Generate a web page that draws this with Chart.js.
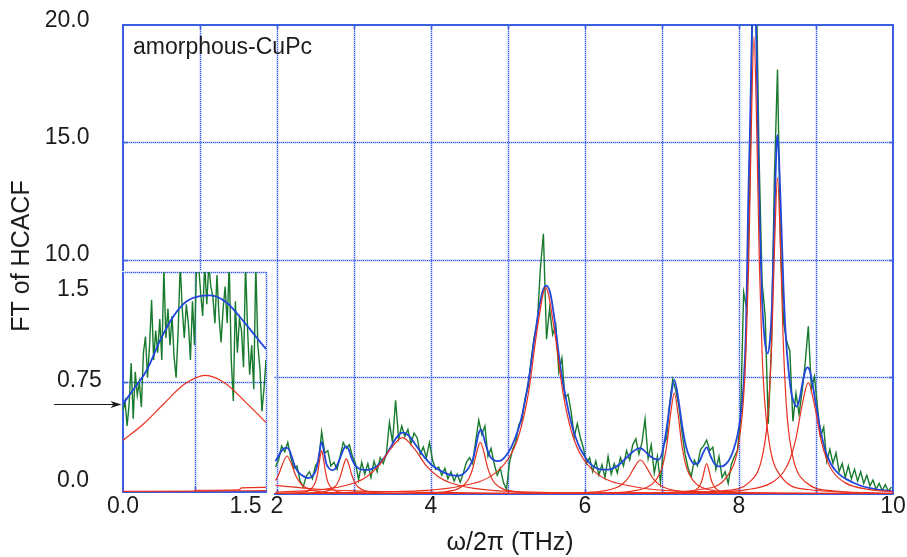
<!DOCTYPE html>
<html>
<head>
<meta charset="utf-8">
<script src="https://cdn.jsdelivr.net/npm/chart.js@4.4.1/dist/chart.umd.min.js"></script>
<style>
  html, body { margin: 0; padding: 0; background: #fff; }
  #wrap { position: relative; width: 907px; height: 557px; }
  #wrap canvas { position: absolute; left: 0; top: 0; }
</style>
</head>
<body>
<div id="wrap">
  <canvas id="main" width="907" height="557" style="width:907px;height:557px"></canvas>
  <canvas id="inset" width="907" height="557" style="width:907px;height:557px"></canvas>
</div>
<script>
// ---------- spectrum data (frequency in THz, FT of HCACF) ----------

// raw spectrum, 2–10 THz
const greenFreq = [
  1.98,2.02,2.06,2.10,2.14,2.18,2.22,2.26,2.30,2.34,
  2.38,2.42,2.46,2.50,2.54,2.58,2.62,2.66,2.70,2.74,
  2.78,2.82,2.86,2.90,2.94,2.98,3.02,3.06,3.10,3.14,
  3.18,3.22,3.26,3.30,3.34,3.38,3.42,3.46,3.50,3.54,
  3.58,3.62,3.66,3.70,3.74,3.78,3.82,3.86,3.90,3.94,
  3.98,4.02,4.06,4.10,4.14,4.18,4.22,4.26,4.30,4.34,
  4.38,4.42,4.46,4.50,4.54,4.58,4.62,4.66,4.70,4.74,
  4.78,4.82,4.86,4.90,4.94,4.98,5.02,5.06,5.10,5.14,
  5.18,5.22,5.26,5.30,5.34,5.38,5.42,5.46,5.50,5.54,
  5.58,5.62,5.66,5.70,5.74,5.78,5.82,5.86,5.90,5.94,
  5.98,6.02,6.06,6.10,6.14,6.18,6.22,6.26,6.30,6.34,
  6.38,6.42,6.46,6.50,6.54,6.58,6.62,6.66,6.70,6.74,
  6.78,6.82,6.86,6.90,6.94,6.98,7.02,7.06,7.10,7.14,
  7.18,7.22,7.26,7.30,7.34,7.38,7.42,7.46,7.50,7.54,
  7.58,7.62,7.66,7.70,7.74,7.78,7.82,7.86,7.90,7.94,
  7.98,8.02,8.06,8.10,8.14,8.18,8.22,8.26,8.30,8.34,
  8.38,8.42,8.46,8.50,8.54,8.58,8.62,8.66,8.70,8.74,
  8.78,8.82,8.86,8.90,8.94,8.98,9.02,9.06,9.10,9.14,
  9.18,9.22,9.26,9.30,9.34,9.38,9.42,9.46,9.50,9.54,
  9.58,9.62,9.66,9.70,9.74,9.78,9.82,9.86,9.90,9.94,
  9.98
];
const greenAmp = [
  1.15,1.45,2.05,1.80,2.20,1.55,1.10,1.20,0.55,0.30,
  0.75,0.95,0.65,1.20,1.40,2.65,1.75,1.85,1.20,1.35,
  1.05,1.60,2.20,1.95,2.10,1.60,1.30,0.60,1.35,0.85,
  1.30,0.70,1.40,0.95,1.55,1.30,1.70,3.05,2.20,4.00,
  2.35,2.90,2.45,2.75,2.15,2.60,2.40,1.70,2.00,1.55,
  2.20,1.45,1.05,1.15,0.80,1.10,0.65,0.95,0.55,0.85,
  0.50,0.90,1.35,1.55,1.30,2.25,3.15,2.55,2.90,1.60,
  1.95,1.30,0.80,1.10,0.50,0.20,1.35,1.90,2.20,2.95,
  3.15,4.05,4.55,5.70,6.70,7.25,9.60,11.10,6.60,7.90,
  6.80,7.20,5.20,5.80,4.10,4.25,3.50,2.45,3.00,2.40,
  1.95,1.30,1.55,0.95,1.40,0.80,1.25,0.70,1.60,0.85,
  1.30,0.90,1.55,1.20,1.85,1.45,2.10,2.35,1.70,2.20,
  3.20,1.50,2.10,0.90,1.60,0.50,2.05,2.40,3.90,4.90,
  4.40,3.75,2.60,1.70,1.10,0.75,1.45,1.20,1.90,2.05,
  2.30,1.85,2.00,1.05,1.60,0.70,0.95,0.45,1.25,1.60,
  1.85,3.20,8.60,7.90,13.0,22.0,23.0,14.5,9.00,7.60,
  3.00,6.20,13.5,18.1,10.5,7.30,6.50,6.10,3.10,4.30,
  3.40,4.40,5.60,7.15,4.45,5.00,3.70,2.45,2.85,1.40,
  1.90,1.30,1.75,0.95,1.30,0.70,1.20,0.65,1.05,0.55,
  0.95,0.45,0.80,0.35,0.60,0.20,0.45,0.15,0.40,0.12,
  0.30
];

// total Lorentzian fit, 2–10 THz
const fitTotal = [
  [1.98,1.40],[2.02,1.62],[2.06,1.85],[2.10,1.96],[2.13,1.97],[2.16,1.88],[2.20,1.50],[2.24,1.12],
  [2.28,0.92],[2.32,0.81],[2.36,0.73],[2.41,0.68],[2.45,0.74],[2.49,0.90],[2.52,1.18],[2.55,1.75],
  [2.58,2.22],[2.61,1.80],[2.64,1.30],[2.67,1.12],[2.71,1.02],[2.75,1.05],[2.79,1.30],[2.83,1.62],
  [2.87,1.95],[2.90,2.03],[2.93,1.90],[2.97,1.52],[3.01,1.25],[3.06,1.10],[3.12,1.03],[3.18,1.03],
  [3.24,1.08],[3.30,1.20],[3.36,1.40],[3.42,1.68],[3.48,2.02],[3.54,2.35],[3.60,2.58],[3.64,2.62],
  [3.68,2.57],[3.74,2.38],[3.80,2.10],[3.86,1.82],[3.92,1.55],[3.98,1.33],[4.04,1.16],[4.10,1.03],
  [4.16,0.93],[4.22,0.85],[4.28,0.79],[4.34,0.77],[4.40,0.82],[4.45,0.95],[4.50,1.18],[4.55,1.55],
  [4.59,2.15],[4.62,2.60],[4.65,2.74],[4.68,2.48],[4.72,2.00],[4.76,1.65],[4.80,1.48],[4.86,1.40],
  [4.92,1.45],[4.98,1.66],[5.04,1.98],[5.10,2.45],[5.16,3.05],[5.22,3.95],[5.28,5.10],[5.34,6.55],
  [5.40,7.85],[5.45,8.65],[5.50,8.89],[5.55,8.55],[5.60,7.55],[5.65,6.20],[5.70,5.00],[5.76,3.95],
  [5.82,3.05],[5.88,2.40],[5.94,1.92],[6.00,1.58],[6.07,1.28],[6.14,1.12],[6.22,1.04],[6.30,1.04],
  [6.38,1.12],[6.46,1.30],[6.54,1.55],[6.62,1.80],[6.68,1.93],[6.72,1.95],[6.77,1.85],[6.83,1.65],
  [6.90,1.50],[6.96,1.47],[7.01,1.85],[7.06,2.80],[7.11,4.00],[7.16,4.87],[7.21,4.10],[7.26,2.95],
  [7.31,2.05],[7.36,1.55],[7.42,1.28],[7.48,1.35],[7.53,1.72],[7.58,1.99],[7.63,1.62],[7.68,1.30],
  [7.73,1.18],[7.78,1.18],[7.83,1.28],[7.88,1.50],[7.93,1.90],[7.98,2.50],[8.02,3.30],[8.06,4.70],
  [8.09,7.00],[8.105,9.50],[8.12,12.5],[8.14,15.2],[8.16,18.5],[8.18,21.5],[8.195,22.5],[8.21,21.5],
  [8.23,18.5],[8.25,14.5],[8.27,11.5],[8.29,9.2],[8.31,7.6],[8.34,6.4],[8.37,6.0],[8.40,6.5],
  [8.43,8.2],[8.46,11.8],[8.49,15.0],[8.50,15.3],[8.52,14.3],[8.55,11.5],[8.58,8.6],[8.61,6.6],
  [8.64,5.4],[8.68,4.3],[8.72,3.85],[8.75,3.73],[8.78,3.95],[8.82,4.65],[8.86,5.25],[8.89,5.40],
  [8.92,5.25],[8.96,4.60],[9.01,3.60],[9.06,2.70],[9.12,1.85],[9.19,1.30],[9.26,0.98],[9.34,0.74],
  [9.42,0.59],[9.50,0.46],[9.60,0.33],[9.70,0.25],[9.80,0.19],[9.90,0.15],[10.00,0.11]
];

// individual Lorentzian components
const peakBroad = [[1.98,0.37],[2.5,0.214],[3,0.136],[4,0.066],[5,0.039],[6,0.025],[8,0.013],[10,0.008]];
const peak213 = [[1.98,0.57],[2.02,0.81],[2.075,1.30],[2.13,1.62],[2.185,1.30],[2.24,0.81],[2.295,0.50],
  [2.35,0.32],[2.46,0.16],[2.68,0.062],[3.23,0.016],[4.33,0.004],[10,0]];
const peak258 = [[1.98,0.013],[2.33,0.071],[2.43,0.185],[2.48,0.37],[2.505,0.57],[2.53,0.925],[2.555,1.48],
  [2.58,1.85],[2.605,1.48],[2.63,0.925],[2.655,0.57],[2.68,0.37],[2.73,0.185],[2.83,0.071],[3.08,0.018],
  [4.0,0.0023],[10,0]];
const peak290 = [[1.98,0.010],[2.515,0.058],[2.669,0.15],[2.746,0.30],[2.785,0.46],[2.823,0.75],[2.862,1.20],
  [2.90,1.50],[2.938,1.20],[2.977,0.75],[3.015,0.46],[3.054,0.30],[3.131,0.15],[3.285,0.058],[3.67,0.015],
  [5.0,0.002],[10,0]];
const peak363 = [[1.98,0.082],[2.08,0.092],[2.70,0.24],[3.01,0.48],[3.165,0.74],[3.32,1.20],[3.475,1.92],
  [3.63,2.40],[3.785,1.92],[3.94,1.20],[4.095,0.74],[4.25,0.48],[4.56,0.24],[5.18,0.092],[6.73,0.024],[10,0.006]];
const peak464 = [[1.98,0.003],[3.67,0.022],[4.155,0.085],[4.349,0.22],[4.446,0.44],[4.495,0.68],[4.543,1.10],
  [4.592,1.76],[4.64,2.20],[4.689,1.76],[4.737,1.10],[4.786,0.68],[4.834,0.44],[4.931,0.22],[5.125,0.085],
  [5.61,0.022],[10,0.0007]];
const peak549 = [[1.98,0.034],[3.29,0.087],[4.39,0.34],[4.83,0.88],[5.05,1.76],[5.16,2.71],[5.27,4.40],
  [5.38,7.04],[5.49,8.80],[5.60,7.04],[5.71,4.40],[5.82,2.71],[5.93,1.76],[6.15,0.88],[6.59,0.34],
  [7.69,0.087],[10,0.021]];
const peak672 = [[1.98,0.0015],[5.22,0.014],[5.97,0.056],[6.27,0.145],[6.42,0.29],[6.495,0.45],[6.57,0.725],
  [6.645,1.16],[6.72,1.45],[6.795,1.16],[6.87,0.725],[6.945,0.45],[7.02,0.29],[7.17,0.145],[7.47,0.056],
  [8.22,0.014],[10,0.003]];
const peak716 = [[1.98,0.0014],[5.0,0.0083],[6.21,0.043],[6.685,0.165],[6.875,0.43],[6.97,0.86],[7.0175,1.32],
  [7.065,2.15],[7.1125,3.44],[7.16,4.30],[7.2075,3.44],[7.255,2.15],[7.3025,1.32],[7.35,0.86],[7.445,0.43],
  [7.635,0.165],[8.11,0.043],[10,0.0048]];
const peak758 = [[1.98,0.0001],[7.03,0.013],[7.305,0.05],[7.415,0.13],[7.47,0.26],[7.4975,0.40],[7.525,0.65],
  [7.5525,1.04],[7.58,1.30],[7.6075,1.04],[7.635,0.65],[7.6625,0.40],[7.69,0.26],[7.745,0.13],[7.855,0.05],
  [8.13,0.013],[10,0.0007]];
const peak820 = [[1.98,0.0025],[5.0,0.009],[6.8,0.049],[7.495,0.193],[7.845,0.75],[7.985,1.95],[8.055,3.90],
  [8.09,6.00],[8.125,9.75],[8.16,15.6],[8.195,19.5],[8.23,15.6],[8.265,9.75],[8.30,6.00],[8.335,3.90],
  [8.405,1.95],[8.545,0.75],[8.895,0.193],[10,0.029]];
const peak850 = [[1.98,0.0016],[5.0,0.0057],[7.1,0.036],[7.78,0.134],[8.14,0.52],[8.284,1.35],[8.356,2.70],
  [8.392,4.15],[8.428,6.75],[8.464,10.8],[8.50,13.5],[8.536,10.8],[8.572,6.75],[8.608,4.15],[8.644,2.70],
  [8.716,1.35],[8.86,0.52],[9.22,0.134],[10,0.031]];
const peak890 = [[1.98,0.0025],[5.0,0.008],[7.30,0.047],[8.10,0.183],[8.42,0.475],[8.58,0.95],[8.66,1.46],
  [8.74,2.375],[8.82,3.80],[8.90,4.75],[8.98,3.80],[9.06,2.375],[9.14,1.46],[9.22,0.95],[9.38,0.475],
  [9.70,0.183],[10,0.098]];
const componentPeaks = [peakBroad, peak213, peak258, peak290, peak363, peak464, peak549,
  peak672, peak716, peak758, peak820, peak850, peak890];

// low-frequency part, 0–1.75 THz
const insetFreq = [
  0.000,0.025,0.050,0.075,0.100,0.125,0.150,0.175,0.200,0.225,
  0.250,0.275,0.300,0.325,0.350,0.375,0.400,0.425,0.450,0.475,
  0.500,0.525,0.550,0.575,0.600,0.625,0.650,0.675,0.700,0.725,
  0.750,0.775,0.800,0.825,0.850,0.875,0.900,0.925,0.950,0.975,
  1.000,1.025,1.050,1.075,1.100,1.125,1.150,1.175,1.200,1.225,
  1.250,1.275,1.300,1.325,1.350,1.375,1.400,1.425,1.450,1.475,
  1.500,1.525,1.550,1.575,1.600,1.625,1.650,1.675,1.700,1.725,
  1.750
];
const insetAmp = [
  0.55,0.62,0.45,0.60,0.88,0.50,0.82,0.66,0.75,0.58,
  0.95,1.06,0.78,1.00,1.31,0.90,1.10,0.95,1.18,0.90,
  1.52,1.05,1.25,1.00,1.20,0.92,0.78,1.10,1.55,1.25,
  1.05,1.28,1.15,0.90,1.30,1.00,1.55,1.55,1.36,1.20,
  1.55,1.28,1.55,1.40,1.33,1.15,1.48,1.20,1.02,1.25,
  1.40,1.15,1.55,0.90,0.62,1.30,0.95,1.18,1.10,0.85,
  1.55,1.10,0.80,1.00,0.70,1.55,1.00,0.85,0.55,0.70,
  0.90
];
const insetFit = [[0,0.60],[0.13,0.70],[0.29,0.83],[0.46,1.04],[0.62,1.20],[0.78,1.30],[0.94,1.335],
  [1.07,1.34],[1.27,1.29],[1.48,1.16],[1.64,1.05],[1.75,0.975]];
const insetPeak = [[0,0.352],[0.25,0.464],[0.5,0.602],[0.75,0.734],[1.01,0.795],[1.25,0.742],[1.5,0.613],[1.75,0.474]];
const insetTailA = [[0,0.004],[0.875,0.006],[1.75,0.010]];
const insetTailB = [[0.875,0.012],[1.42,0.015],[1.45,0.028],[1.75,0.032]];

// axis ticks and labels
const freqGrid = [1, 2, 3, 4, 5, 6, 7, 8, 9];
const freqLabels = [2, 4, 6, 8, 10];
const ampGrid = [5, 10, 15];
const ampLabels = [10, 15, 20];
const insetFreqGrid = [0.875];
const insetFreqLabels = [[0, '0.0'], [1.5, '1.5']];
const insetAmpGrid = [0.75];
const insetAmpLabels = [[0, '0.0'], [0.75, '0.75'], [1.5, '1.5']];

// ---------- styling ----------
const GREEN = '#177a2c';
const BLUE = '#2146dc';
const RED = '#e9301f';
const FRAME = '#3b5fe4';
const GRID_DOT = '#3358ee';
const GRID_HALO = 'rgba(110, 140, 245, 0.45)';
const INK = '#1c1c1c';
const FONT = '"Liberation Sans", Arial, Helvetica, sans-serif';
const TICK_FONT = '23px ' + FONT;
const TITLE_FONT = '25px ' + FONT;

const toXY = arr => arr.map(([x, y]) => ({ x, y }));
const zipXY = (xs, ys) => xs.map((x, i) => ({ x, y: ys[i] }));

function seg(ctx, x1, y1, x2, y2) {
  ctx.beginPath(); ctx.moveTo(x1, y1); ctx.lineTo(x2, y2); ctx.stroke();
}

// dotted grid line: a faint 2px band with crisp 1px dots on it
function dotted(ctx, x1, y1, x2, y2) {
  const vertical = x1 === x2;
  ctx.fillStyle = GRID_HALO;
  if (vertical) ctx.fillRect(x1 - 0.5, y1, 2, y2 - y1);
  else ctx.fillRect(x1, y1 - 0.5, x2 - x1, 2);
  ctx.fillStyle = GRID_DOT;
  const len = vertical ? y2 - y1 : x2 - x1;
  for (let d = 0; d <= len; d += 2) {
    if (vertical) ctx.fillRect(Math.round(x1), Math.round(y1 + d), 1, 1);
    else ctx.fillRect(Math.round(x1 + d), Math.round(y1), 1, 1);
  }
}

const redSet = d => ({ data: toXY(d), borderColor: RED, borderWidth: 1.2, pointRadius: 0,
  cubicInterpolationMode: 'monotone', fill: false, clip: 0, order: 0 });

// ---------- main spectrum ----------
const mainDecor = {
  id: 'mainDecor',
  beforeDatasetsDraw(chart) {
    const { ctx, chartArea: a, scales: { x, y } } = chart;
    ctx.save();
    freqGrid.forEach(v => { const p = Math.round(x.getPixelForValue(v)); dotted(ctx, p, a.top, p, a.bottom); });
    ampGrid.forEach(v => { const p = Math.round(y.getPixelForValue(v)); dotted(ctx, a.left, p, a.right, p); });
    ctx.strokeStyle = FRAME; ctx.lineWidth = 2;
    ctx.strokeRect(a.left, a.top, a.right - a.left, a.bottom - a.top);
    ctx.lineWidth = 1.5;
    freqGrid.forEach(v => {
      const p = Math.round(x.getPixelForValue(v)) + 0.5;
      seg(ctx, p, a.top, p, a.top + 4); seg(ctx, p, a.bottom, p, a.bottom - 5);
    });
    ampGrid.forEach(v => {
      const p = Math.round(y.getPixelForValue(v)) + 0.5;
      seg(ctx, a.left, p, a.left + 5, p); seg(ctx, a.right, p, a.right - 4, p);
    });
    ctx.restore();
  },
  afterDraw(chart) {
    const { ctx, chartArea: a, scales: { x, y } } = chart;
    ctx.save();
    ctx.fillStyle = INK;
    ctx.font = TICK_FONT;
    ctx.textBaseline = 'middle';
    ctx.textAlign = 'right';
    ampLabels.forEach(v => ctx.fillText(v.toFixed(1), 89.5, y.getPixelForValue(v) - 4.5));
    ctx.textAlign = 'center';
    freqLabels.forEach(v => ctx.fillText(String(v), x.getPixelForValue(v), a.bottom + 13));
    ctx.textAlign = 'left';
    ctx.textBaseline = 'alphabetic';
    ctx.fillText('amorphous-CuPc', a.left + 10, a.top + 29);
    ctx.font = TITLE_FONT;
    ctx.textAlign = 'center';
    ctx.textBaseline = 'middle';
    ctx.fillText('\u03c9/2\u03c0 (THz)', 510, 543);
    ctx.translate(22, 256);
    ctx.rotate(-Math.PI / 2);
    ctx.fillText('FT of HCACF', 0, 0);
    ctx.restore();
  }
};

new Chart(document.getElementById('main'), {
  type: 'line',
  data: {
    datasets: [
      ...componentPeaks.map(redSet),
      { data: toXY(fitTotal), borderColor: BLUE, borderWidth: 1.8, pointRadius: 0,
        cubicInterpolationMode: 'monotone', fill: false, clip: 0, order: 1 },
      { data: zipXY(greenFreq, greenAmp), borderColor: GREEN, borderWidth: 1.4, pointRadius: 0,
        tension: 0, fill: false, clip: 0, order: 2 }
    ]
  },
  options: {
    responsive: false, animation: false, devicePixelRatio: 1, events: [],
    layout: { padding: { left: 123, right: 14, top: 25, bottom: 63 } },
    plugins: { legend: { display: false }, tooltip: { enabled: false } },
    scales: {
      x: { type: 'linear', min: 0, max: 10, grid: { display: false }, border: { display: false },
           ticks: { display: false }, afterFit: s => { s.height = 0; } },
      y: { type: 'linear', min: 0, max: 20, grid: { display: false }, border: { display: false },
           ticks: { display: false }, afterFit: s => { s.width = 0; } }
    }
  },
  plugins: [mainDecor]
});

// ---------- low-frequency inset ----------
const insetDecor = {
  id: 'insetDecor',
  beforeDatasetsDraw(chart) {
    const { ctx, chartArea: a, scales: { x, y } } = chart;
    ctx.save();
    ctx.fillStyle = '#fff';
    ctx.fillRect(a.left - 1, a.top - 1, a.right - a.left + 9, a.bottom - a.top + 5);
    insetFreqGrid.forEach(v => { const p = Math.round(x.getPixelForValue(v)); dotted(ctx, p, a.top, p, a.bottom); });
    insetAmpGrid.forEach(v => { const p = Math.round(y.getPixelForValue(v)); dotted(ctx, a.left, p, a.right, p); });
    dotted(ctx, a.left, Math.round(a.top), a.right, Math.round(a.top));
    dotted(ctx, Math.round(a.right), a.top, Math.round(a.right), a.bottom);
    ctx.strokeStyle = FRAME; ctx.lineWidth = 2;
    seg(ctx, a.left, a.top, a.left, a.bottom + 1);
    seg(ctx, a.left - 1, a.bottom, a.right + 1, a.bottom);
    ctx.lineWidth = 1.5;
    insetAmpGrid.forEach(v => { const p = Math.round(y.getPixelForValue(v)) + 0.5; seg(ctx, a.left, p, a.left + 5, p); });
    insetFreqGrid.forEach(v => { const p = Math.round(x.getPixelForValue(v)) + 0.5; seg(ctx, p, a.bottom, p, a.bottom - 5); });
    ctx.restore();
  },
  afterDraw(chart) {
    const { ctx, chartArea: a, scales: { x, y } } = chart;
    ctx.save();
    ctx.fillStyle = INK;
    ctx.font = TICK_FONT;
    ctx.textBaseline = 'middle';
    ctx.textAlign = 'left';
    insetAmpLabels.forEach(([v, t]) => {
      let p = y.getPixelForValue(v);
      if (v === y.max) p += 18; else if (v === y.min) p -= 11; else p -= 1.5;
      ctx.fillText(t, 57, p);
    });
    ctx.textAlign = 'center';
    insetFreqLabels.forEach(([v, t]) => ctx.fillText(t, x.getPixelForValue(v), a.bottom + 15));
    // arrow marking the zero-frequency value of the fit
    const ay = Math.round(y.getPixelForValue(insetFit[0][1])) + 0.5;
    const tip = a.left - 1.5;
    ctx.strokeStyle = INK; ctx.lineWidth = 1.2;
    seg(ctx, 54, ay, tip - 6, ay);
    ctx.beginPath();
    ctx.moveTo(tip, ay); ctx.lineTo(tip - 11, ay - 3.6); ctx.lineTo(tip - 8, ay); ctx.lineTo(tip - 11, ay + 3.6);
    ctx.closePath(); ctx.fill();
    ctx.restore();
  }
};

new Chart(document.getElementById('inset'), {
  type: 'line',
  data: {
    datasets: [
      redSet(insetTailA), redSet(insetTailB), redSet(insetPeak),
      { data: toXY(insetFit), borderColor: BLUE, borderWidth: 1.8, pointRadius: 0,
        cubicInterpolationMode: 'monotone', fill: false, clip: 0, order: 1 },
      { data: zipXY(insetFreq, insetAmp), borderColor: GREEN, borderWidth: 1.4, pointRadius: 0,
        tension: 0, fill: false, clip: 0, order: 2 }
    ]
  },
  options: {
    responsive: false, animation: false, devicePixelRatio: 1, events: [],
    layout: { padding: { left: 123, right: 641, top: 272, bottom: 65 } },
    plugins: { legend: { display: false }, tooltip: { enabled: false } },
    scales: {
      x: { type: 'linear', min: 0, max: 1.75, grid: { display: false }, border: { display: false },
           ticks: { display: false }, afterFit: s => { s.height = 0; } },
      y: { type: 'linear', min: 0, max: 1.5, grid: { display: false }, border: { display: false },
           ticks: { display: false }, afterFit: s => { s.width = 0; } }
    }
  },
  plugins: [insetDecor]
});
</script>
</body>
</html>
